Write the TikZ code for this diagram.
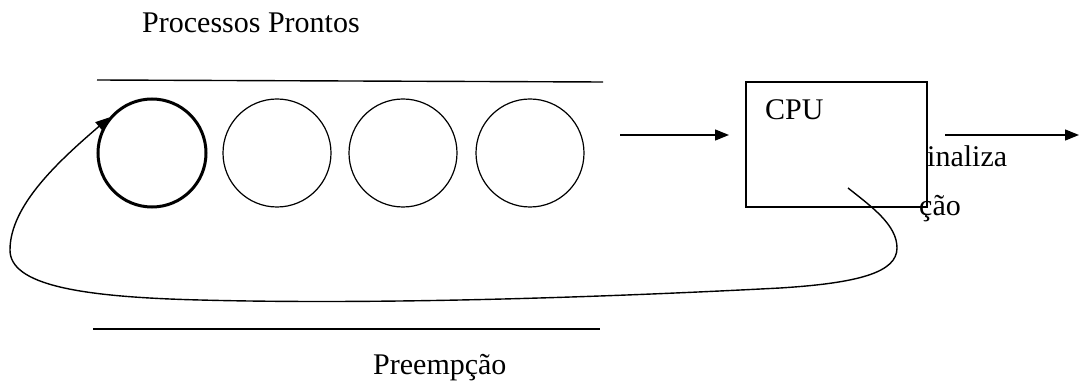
\documentclass[tikz,border=0pt]{standalone}
\usepackage{fontspec}
\setmainfont{Liberation Serif}
\usetikzlibrary{arrows.meta}
\begin{document}
\begin{tikzpicture}[x=1pt,y=-1pt,
  every node/.style={font=\fontsize{30}{35}\selectfont, inner sep=0pt},
  rule/.style={line width=1.4pt},
  proc/.style={circle, draw, line width=1.2pt, minimum size=108pt},
  first/.style={proc, line width=3pt},
  flow/.style={line width=1.4pt, -{Triangle[length=14pt,width=11pt]}},
  cpubox/.style={draw, fill=white, line width=1.4pt, minimum width=181pt, minimum height=125pt}]
\useasboundingbox (0,0) rectangle (1079,387);

% ready queue
\node[anchor=base west] (titulo) at (142,33) {Processos Prontos};
\coordinate (t1) at (97,80);
\coordinate (t2) at (603,82);
\draw[rule] (t1) -- (t2);
\coordinate (b1) at (93,329);
\coordinate (b2) at (600,329);
\draw[rule] (b1) -- (b2);
\node[first] (q1) at (152,153) {};
\node[proc] (q2) at (277,153) {};
\node[proc] (q3) at (403,153) {};
\node[proc] (q4) at (530,153) {};

% processor
\node[anchor=base west] (fin) at (927,167) {inaliza};
\node[cpubox] (cpu) at (836.5,144.5) {};
\node[anchor=base west] (cpulbl) at (765,120) {CPU};
\node[anchor=base west] (cao) at (919,216) {ção};

\coordinate (a1) at (620,135);
\coordinate (a2) at (729,135);
\draw[flow] (a1) -- (a2);
\coordinate (o1) at (945,135);
\coordinate (o2) at (1079,135);
\draw[flow] (o1) -- (o2);

% preemption loop
\coordinate (s) at (848,188);
\draw[flow]
  (s) .. controls (872,207) and (897,225) .. (897,248)
      .. controls (897,272) and (860,283) .. (780,288)
      .. controls (550,300) and (350,304) .. (200,300)
      .. controls (80,297) and (10,285) .. (10,250)
      .. controls (10,205) and (60,160) .. (q1.140);

\node[anchor=base west] (pre) at (373,374) {Preempção};
\end{tikzpicture}
\end{document}
